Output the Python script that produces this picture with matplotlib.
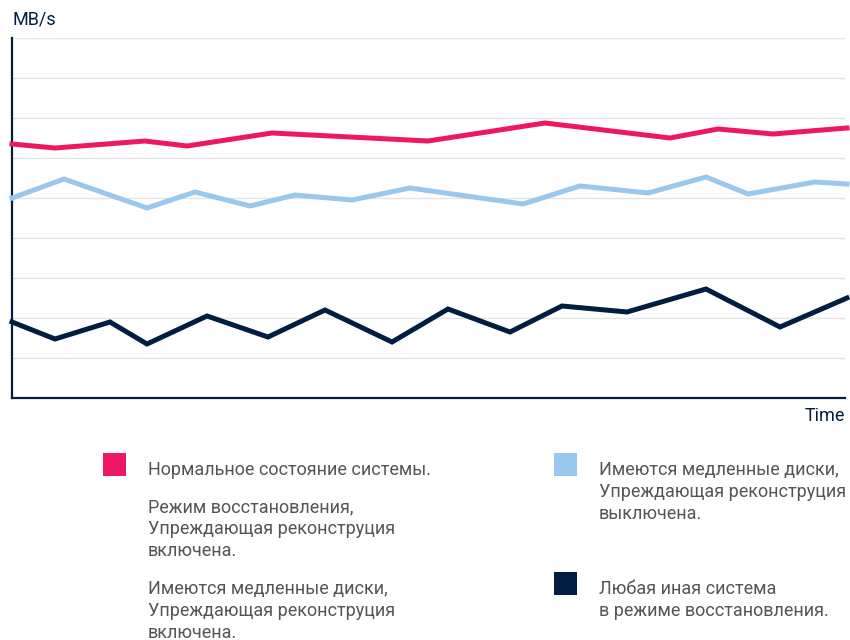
import matplotlib
matplotlib.use('Agg')
import matplotlib.pyplot as plt
from matplotlib.patches import Rectangle

plt.rcParams['font.family'] = ['Roboto', 'DejaVu Sans']

# time positions and throughput values
t_normal = [0, 43, 133, 175, 260, 416, 533, 658, 706, 761, 835]
v_normal = [63.5, 62.5, 64.25, 63, 66.25, 64.25, 68.75, 65, 67.25, 66, 67.5]

t_slow_off = [0, 52, 135, 183, 238, 283, 340, 398, 511, 568, 636, 694, 736, 803, 835]
v_slow_off = [50, 54.75, 47.5, 51.5, 48, 50.75, 49.5, 52.5, 48.5, 53, 51.25, 55.25, 51, 54, 53.5]

t_other = [0, 43, 98, 135, 195, 256, 313, 380, 436, 498, 550, 615, 694, 768, 835]
v_other = [19, 14.75, 19, 13.5, 20.5, 15.25, 22, 14, 22.25, 16.5, 23, 21.5, 27.25, 17.75, 25]

legend_labels = [
    'Нормальное состояние системы.',
    'Режим восстановления,\nУпреждающая реконструция\nвключена.',
    'Имеются медленные диски,\nУпреждающая реконструция\nвключена.',
    'Имеются медленные диски,\nУпреждающая реконструция\nвыключена.',
    'Любая иная система\nв режиме восстановления.',
]

PINK = '#EE1763'
LIGHT = '#99C7EE'
NAVY = '#011E41'
TEXT = '#555555'

W, H = 850, 640
fig = plt.figure(figsize=(8.5, 6.4), dpi=100)
ax = fig.add_axes([12 / W, 1 - 398 / H, 833 / W, 360 / H])

ax.plot(t_normal, v_normal, color=PINK, lw=3.6, solid_joinstyle='miter', clip_on=False, zorder=3)
ax.plot(t_slow_off, v_slow_off, color=LIGHT, lw=3.6, solid_joinstyle='miter', clip_on=False, zorder=3)
ax.plot(t_other, v_other, color=NAVY, lw=3.6, solid_joinstyle='miter', clip_on=False, zorder=3)

ax.set_xlim(0, 833)
ax.set_ylim(0, 90)
ax.set_yticks(range(10, 91, 10))
ax.set_xticks([])
ax.tick_params(axis='y', length=0, labelleft=False)
ax.grid(axis='y', color='#E4E4E4', lw=1)
ax.set_axisbelow(True)
for s in ['top', 'right']:
    ax.spines[s].set_visible(False)
for s in ['left', 'bottom']:
    ax.spines[s].set_color(NAVY)
    ax.spines[s].set_linewidth(1.6)

fig.text(12 / W, 1 - 20 / H, 'MB/s', color=NAVY, fontsize=13, va='center', ha='left')
fig.text(845 / W, 1 - 416 / H, 'Time', color=NAVY, fontsize=13, va='center', ha='right')

# legend: square colour (or None), square x, text x, first baseline y (pixels)
legend_pos = [
    (PINK, 103, 148, 475),
    (None, 103, 148, 512),
    (None, 103, 148, 594),
    (LIGHT, 554, 599, 475),
    (NAVY, 554, 599, 594),
]
for (col, sx, tx, by), label in zip(legend_pos, legend_labels):
    if col is not None:
        fig.patches.append(Rectangle((sx / W, 1 - (by + 0.5) / H), 23 / W, 23 / H,
                                     transform=fig.transFigure,
                                     facecolor=col, edgecolor='none'))
    for i, line in enumerate(label.split('\n')):
        fig.text(tx / W, 1 - (by + 22 * i) / H, line, color=TEXT, fontsize=13,
                 va='baseline', ha='left')

fig.savefig('out.png', dpi=100)
